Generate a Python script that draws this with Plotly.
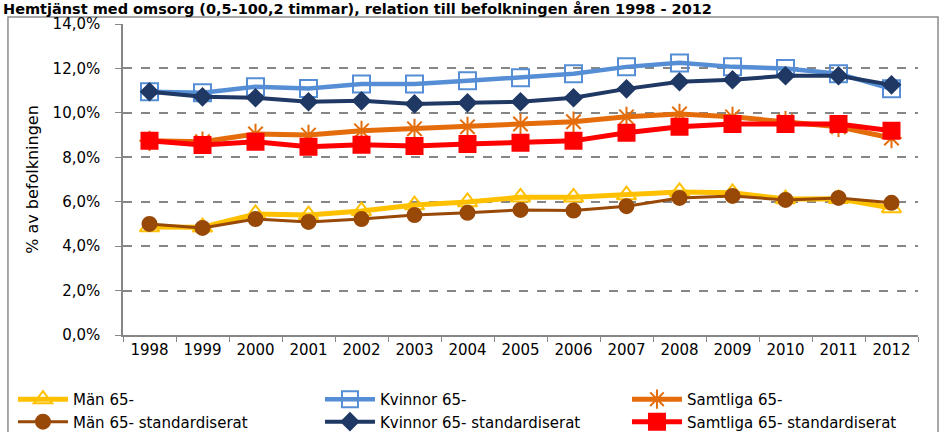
import plotly.graph_objects as go

years = [str(y) for y in range(1998, 2013)]

man = [4.86, 4.85, 5.45, 5.40, 5.58, 5.85, 5.99, 6.20, 6.20, 6.30, 6.44, 6.40, 6.12, 6.13, 5.72]
kvinnor = [10.95, 10.90, 11.17, 11.10, 11.30, 11.30, 11.44, 11.58, 11.76, 12.07, 12.25, 12.07, 12.00, 11.76, 11.08]
samtliga = [8.74, 8.70, 9.05, 9.00, 9.19, 9.28, 9.37, 9.50, 9.60, 9.82, 9.95, 9.82, 9.62, 9.37, 8.87]
man_std = [5.00, 4.82, 5.22, 5.09, 5.22, 5.40, 5.50, 5.63, 5.60, 5.80, 6.17, 6.26, 6.08, 6.17, 5.95]
kvinnor_std = [10.95, 10.72, 10.68, 10.50, 10.54, 10.40, 10.45, 10.50, 10.68, 11.08, 11.40, 11.49, 11.67, 11.67, 11.26]
samtliga_std = [8.74, 8.55, 8.70, 8.47, 8.56, 8.51, 8.60, 8.65, 8.74, 9.10, 9.37, 9.50, 9.50, 9.50, 9.19]

yticks = [0, 2, 4, 6, 8, 10, 12, 14]
yticktext = [f"{v:.1f}".replace(".", ",") + "%" for v in yticks]

FONT = "DejaVu Sans"

series = [
    ("Män 65-", man, "#FFC000", 5, "triangle-up-open", 17),
    ("Kvinnor 65-", kvinnor, "#558ED5", 4.5, "square-open", 17),
    ("Samtliga 65-", samtliga, "#E46C0A", 5, "asterisk-open", 17),
    ("Män 65- standardiserat", man_std, "#984807", 3, "circle", 14),
    ("Kvinnor 65- standardiserat", kvinnor_std, "#1F3864", 4, "diamond", 13),
    ("Samtliga 65- standardiserat", samtliga_std, "#FF0000", 5, "square", 16),
]

fig = go.Figure()
for name, vals, color, lw, sym, ms in series:
    fig.add_trace(go.Scatter(
        x=years, y=vals, name=name, mode="lines+markers",
        line=dict(color=color, width=lw),
        marker=dict(symbol=sym, size=ms, color=color,
                    line=dict(color=color, width=2)),
    ))

# yttre ram runt diagrammet
fig.add_shape(type="rect", xref="paper", yref="paper",
              x0=-0.1447, x1=1.0252, y0=-0.34, y1=(335 - 17) / 311,
              line=dict(color="#8C8C8C", width=1.5), layer="below")

fig.add_annotation(
    text="<b>Hemtjänst med omsorg (0,5-100,2 timmar), relation till befolkningen åren 1998 - 2012</b>",
    xref="paper", yref="paper", x=-0.153, y=(335 + 1) / 311, xanchor="left", yanchor="top",
    showarrow=False, font=dict(family="DejaVu Sans", size=14.5, color="black"),
)

fig.update_layout(
    width=940, height=432,
    margin=dict(l=123, r=22, t=24, b=97, autoexpand=False),
    paper_bgcolor="white", plot_bgcolor="white",
    font=dict(family=FONT, size=15, color="black"),
    showlegend=True,
    legend=dict(
        orientation="h", x=-0.1384, y=-0.154, xanchor="left", yanchor="top",
        entrywidth=242, entrywidthmode="pixels",
        font=dict(family=FONT, size=15), itemwidth=50,
    ),
    xaxis=dict(
        type="category", range=[-0.5, 14.5], showgrid=False,
        showline=True, linecolor="#868686", linewidth=1.5,
        ticks="outside", tickson="boundaries", ticklen=5, tickcolor="#868686",
        tickangle=0, tickfont=dict(family=FONT, size=15),
    ),
    yaxis=dict(
        range=[0, 14], tickvals=yticks, ticktext=yticktext,
        showgrid=True, gridcolor="#868686", griddash="dash", gridwidth=1.5,
        showline=True, linecolor="#868686", linewidth=1.5,
        ticks="outside", ticklen=6, tickcolor="#868686", ticklabelstandoff=12,
        zeroline=False,
        title=dict(text="% av befolkningen", font=dict(family=FONT, size=16), standoff=10),
        tickfont=dict(family=FONT, size=15),
    ),
)

fig.write_html("out.html", config={"displayModeBar": False},
               post_script="document.body.style.margin='0';")
